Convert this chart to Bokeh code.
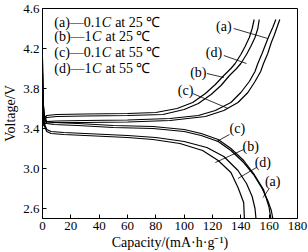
from bokeh.plotting import figure
from bokeh.models import FixedTicker, NumeralTickFormatter
from bokeh.core.properties import value
from bokeh.embed import file_html
from bokeh.resources import INLINE

# ---------------- data ----------------
# charge curves (capacity mA*h/g, voltage V)
a_ch_cap = [0, 1, 3, 10, 30, 60, 90, 110, 122, 133, 140, 146, 150, 152, 155, 158, 160, 162.5, 164.7]
a_ch_v = [3.43, 3.46, 3.47, 3.475, 3.48, 3.485, 3.50, 3.53, 3.58, 3.66, 3.76, 3.87, 3.97, 4.05, 4.15, 4.26, 4.33, 4.41, 4.49]
b_ch_cap = [0, 1, 3, 10, 30, 60, 80, 95, 106, 115, 122, 128, 133, 136, 140, 143, 146, 148, 149.4]
b_ch_v = [3.44, 3.50, 3.53, 3.54, 3.545, 3.55, 3.56, 3.60, 3.66, 3.75, 3.84, 3.93, 4.00, 4.05, 4.14, 4.22, 4.31, 4.40, 4.49]
c_ch_cap = [0, 1, 3, 10, 30, 60, 90, 115, 128, 138, 145, 150, 154, 156, 159, 161.5, 163.5, 165.5, 167.5]
c_ch_v = [3.42, 3.44, 3.455, 3.46, 3.46, 3.465, 3.48, 3.52, 3.58, 3.66, 3.76, 3.87, 3.97, 4.05, 4.15, 4.26, 4.33, 4.41, 4.49]
d_ch_cap = [0, 1, 3, 10, 30, 60, 85, 100, 110, 119, 126, 132, 137, 140, 144, 147, 150, 152, 153]
d_ch_v = [3.44, 3.49, 3.51, 3.52, 3.525, 3.53, 3.54, 3.59, 3.65, 3.74, 3.83, 3.93, 4.00, 4.05, 4.14, 4.22, 4.31, 4.40, 4.49]

# discharge curves
a_dis_cap = [0, 0.5, 1.5, 3, 8, 25, 50, 78, 100, 112, 124, 133, 142, 149, 155, 159, 161.5, 162.6]
a_dis_v = [4.10, 3.65, 3.50, 3.45, 3.44, 3.43, 3.41, 3.40, 3.37, 3.33, 3.27, 3.18, 3.06, 2.94, 2.80, 2.68, 2.58, 2.50]
b_dis_cap = [0, 0.5, 1.5, 3, 6, 15, 30, 60, 78, 97, 113, 124, 133, 138, 142, 142.5]
b_dis_v = [3.95, 3.55, 3.42, 3.37, 3.35, 3.34, 3.33, 3.31, 3.29, 3.25, 3.18, 3.08, 2.96, 2.81, 2.66, 2.50]
c_dis_cap = [0, 0.5, 1.5, 3, 8, 25, 50, 78, 100, 112, 124, 133, 142, 149, 156, 159.8, 161.2]
c_dis_v = [4.05, 3.65, 3.52, 3.47, 3.46, 3.45, 3.43, 3.42, 3.39, 3.35, 3.29, 3.20, 3.08, 2.95, 2.79, 2.62, 2.50]
d_dis_cap = [0, 0.5, 1.5, 3, 6, 15, 30, 60, 80, 100, 116, 128, 138, 144, 148, 150, 150.7]
d_dis_v = [3.95, 3.56, 3.44, 3.39, 3.37, 3.36, 3.35, 3.33, 3.31, 3.27, 3.21, 3.12, 2.98, 2.85, 2.72, 2.60, 2.50]

x_ticks = [0, 20, 40, 60, 80, 100, 120, 140, 160, 180]
y_ticks = [2.6, 3.0, 3.4, 3.8, 4.2, 4.6]

legend_keys = ["(a)", "(b)", "(c)", "(d)"]
legend_rates = ["0.1", "1", "0.1", "1"]
legend_temps = ["25", "25", "55", "55"]

# curve-label annotations (text, anchor, leader line start/end)
label_text = ["(a)", "(d)", "(b)", "(c)", "(c)", "(b)", "(d)", "(a)"]
label_x = [128, 121, 110, 101, 137.5, 147, 155.5, 162.5]
label_y = [4.42, 4.16, 3.96, 3.78, 3.40, 3.22, 3.06, 2.87]
lead_x0 = [135, 128, 116, 106, 132, 142, 151, 160]
lead_y0 = [4.40, 4.13, 3.95, 3.75, 3.34, 3.19, 3.01, 2.80]
lead_x1 = [159, 144, 128, 131, 123, 122, 138, 155.7]
lead_y1 = [4.30, 4.05, 3.91, 3.60, 3.27, 3.06, 2.90, 2.71]

# ---------------- figure ----------------
FONT = "Liberation Serif"

p = figure(width=308, height=252, x_range=(0, 180), y_range=(2.5, 4.6),
           output_backend="svg", toolbar_location=None,
           min_border_left=38, min_border_right=11, min_border_top=8, min_border_bottom=32)
p.background_fill_color = "white"
p.border_fill_color = "white"
p.outline_line_color = "black"
p.outline_line_width = 1
p.xgrid.visible = False
p.ygrid.visible = False

for ax in (p.xaxis[0], p.yaxis[0]):
    ax.major_tick_in = 4
    ax.major_tick_out = 0
    ax.minor_tick_in = 0
    ax.minor_tick_out = 0
    ax.major_label_text_font = FONT
    ax.major_label_text_font_size = "13px"
    ax.major_label_text_color = "black"
    ax.major_label_standoff = 3
    ax.axis_label_text_font = FONT
    ax.axis_label_text_font_size = "14px"
    ax.axis_label_text_font_style = "normal"
    ax.axis_label_text_color = "black"
    ax.axis_line_color = "black"
    ax.major_tick_line_color = "black"

p.xaxis[0].ticker = FixedTicker(ticks=x_ticks)
p.yaxis[0].ticker = FixedTicker(ticks=y_ticks)
p.yaxis[0].formatter = NumeralTickFormatter(format="0.0")
p.xaxis[0].axis_label = "Capacity/(mA·h·g⁻¹)"
p.yaxis[0].axis_label = "Voltage/V"
p.xaxis[0].axis_label_standoff = 2
p.yaxis[0].axis_label_standoff = 2

curves = [
    (a_ch_cap, a_ch_v), (b_ch_cap, b_ch_v), (c_ch_cap, c_ch_v), (d_ch_cap, d_ch_v),
    (a_dis_cap, a_dis_v), (b_dis_cap, b_dis_v), (c_dis_cap, c_dis_v), (d_dis_cap, d_dis_v),
]
for xs, ys in curves:
    p.line(xs, ys, line_color="black", line_width=1.2)

# leader lines and curve labels
p.segment(x0=lead_x0, y0=lead_y0, x1=lead_x1, y1=lead_y1, line_color="black", line_width=0.8)
p.text(x=label_x, y=label_y, text=label_text, text_font=value(FONT),
       text_font_size="14px", text_align="center", text_baseline="middle", text_color="black")

# legend block (text with italic C)
LEG_X = 8.3
LEG_Y = [4.463, 4.317, 4.161, 4.005]
FS = 14
EM = {"(": 0.333, ")": 0.333, "a": 0.444, "b": 0.5, "c": 0.444, "d": 0.5,
      "—": 1.0, "0": 0.5, "1": 0.5, ".": 0.25}
for key, rate, temp, yy in zip(legend_keys, legend_rates, legend_temps, LEG_Y):
    prefix = key + "—" + rate
    w1 = sum(EM.get(ch, 0.5) for ch in prefix) * FS
    w2 = 0.667 * FS + 0.25 * FS
    common = dict(text_font=value(FONT), text_font_size=f"{FS}px", text_align="left",
                  text_baseline="middle", text_color="black")
    p.text(x=[LEG_X], y=[yy], text=[prefix], **common)
    p.text(x=[LEG_X], y=[yy], text=["C"], x_offset=w1 + 0.5, text_font_style="italic", **common)
    p.text(x=[LEG_X], y=[yy], text=["at " + temp + "\u2009℃"], x_offset=w1 + w2 + 1, **common)

open("out.html", "w").write(file_html(p, INLINE))
